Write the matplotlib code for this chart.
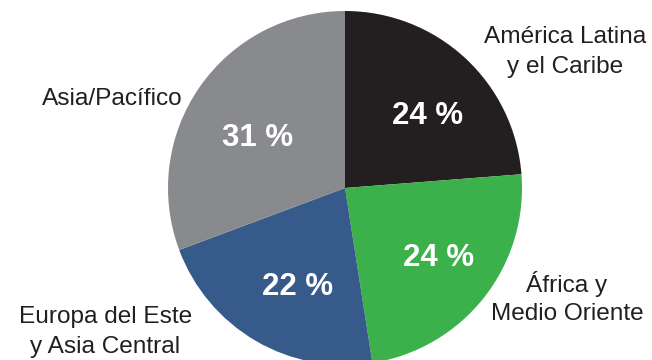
import numpy as np
import matplotlib
matplotlib.use("Agg")
import matplotlib.pyplot as plt

# Regional shares (percent), clockwise from 12 o'clock
regions = ["América Latina\ny el Caribe", "África y\nMedio Oriente",
           "Europa del Este\ny Asia Central", "Asia/Pacífico"]
shares = [24, 24, 22, 31]
colors = ["#231f20", "#3bb04b", "#365a8a", "#898a8d"]

W, H = 652, 360
fig = plt.figure(figsize=(W / 100, H / 100), dpi=100)
ax = fig.add_axes([0, 0, 1, 1])

cx, cy, r = 345, H - 188, 177
wedges, _ = ax.pie(shares, colors=colors, startangle=90, counterclock=False,
                   center=(cx, cy), radius=r, frame=True,
                   wedgeprops=dict(linewidth=0))
ax.set_xlim(0, W)
ax.set_ylim(0, H)
ax.set_aspect("equal")
ax.axis("off")

font = "Liberation Sans"

# percentage labels: (fraction of radius, angular shift from wedge middle)
pct_place = [(0.631, -5.2), (0.650, 2.9), (0.604, 3.9), (0.577, 3.15)]
cap = 22.5
for w, v, (f, dth) in zip(wedges, shares, pct_place):
    mid = np.deg2rad((w.theta1 + w.theta2) / 2 + dth)
    x = cx + f * r * np.cos(mid)
    y = cy + f * r * np.sin(mid) - cap / 2
    ax.text(x, y, f"{v} %", ha="center", va="baseline", color="white",
            fontsize=22.5, fontweight="bold", family=font)

# outside category labels: x anchor, baselines (px from top), alignment
label_x = [565, 567, 105.5, 183]
label_baselines = [(42.7, 73), (292, 320.5), (323.3, 353.3), (105,)]
label_ha = ["center", "center", "center", "right"]
for text, x, bls, ha in zip(regions, label_x, label_baselines, label_ha):
    for line, b in zip(text.split("\n"), bls):
        ax.text(x, H - b, line, ha=ha, va="baseline",
                fontsize=17.6, color="#231f20", family=font)

fig.savefig("out.png", dpi=100, facecolor="white")
